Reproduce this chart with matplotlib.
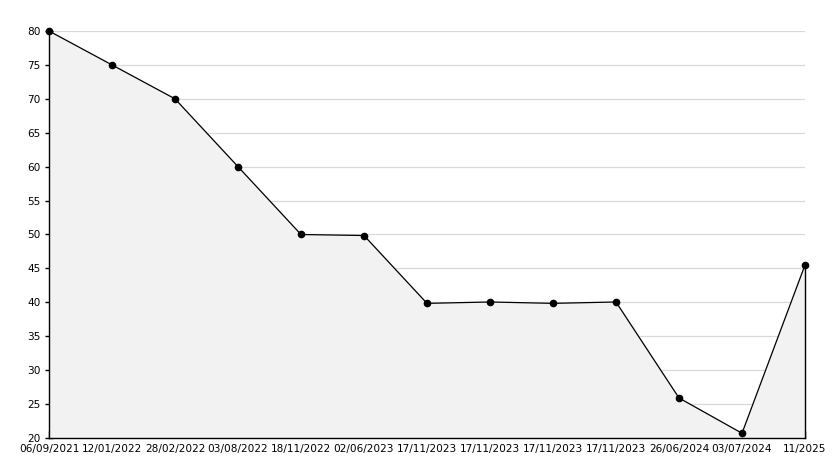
import matplotlib
matplotlib.use("Agg")
import matplotlib.pyplot as plt
from matplotlib.ticker import MultipleLocator

dates = ["06/09/2021", "12/01/2022", "28/02/2022", "03/08/2022", "18/11/2022",
         "02/06/2023", "17/11/2023", "17/11/2023", "17/11/2023", "17/11/2023",
         "26/06/2024", "03/07/2024", "11/2025"]
values = [80, 75, 70, 60, 50, 49.85, 39.85, 40.05, 39.85, 40.05, 25.9, 20.7, 45.5]

x = list(range(len(values)))

fig = plt.figure(figsize=(8.34, 4.68), dpi=100)
ax = fig.add_axes([49 / 834, 1 - 438 / 468, (805 - 49) / 834, (438 - 31) / 468])

ax.fill_between(x, 20, values, color="#f2f2f2", zorder=2)
ax.plot(x, values, color="black", linewidth=0.9, marker="o", markersize=4.5,
        zorder=6, clip_on=False)
ax.plot([x[-1], x[-1]], [20, values[-1]], color="black", linewidth=1.0,
        zorder=5, clip_on=False)

ax.set_xlim(0, len(values) - 1)
ax.set_ylim(20, 80)
ax.set_xticks(x)
ax.set_xticklabels(dates)
ax.yaxis.set_major_locator(MultipleLocator(5))
ax.yaxis.set_minor_locator(MultipleLocator(1))

ax.grid(axis="y", color="#d9d9d9", linewidth=0.9, zorder=1)
ax.set_axisbelow(True)

for side in ["top", "right"]:
    ax.spines[side].set_visible(False)
for side in ["left", "bottom"]:
    ax.spines[side].set_linewidth(1.0)
    ax.spines[side].set_zorder(5)

ax.tick_params(axis="x", direction="in", length=5, width=1, pad=4, labelsize=7.6)
ax.tick_params(axis="y", which="major", direction="inout", length=6, width=1, pad=3, labelsize=7.6)
ax.tick_params(axis="y", which="minor", direction="in", length=3, width=1)

fig.savefig("out.png", dpi=100)
